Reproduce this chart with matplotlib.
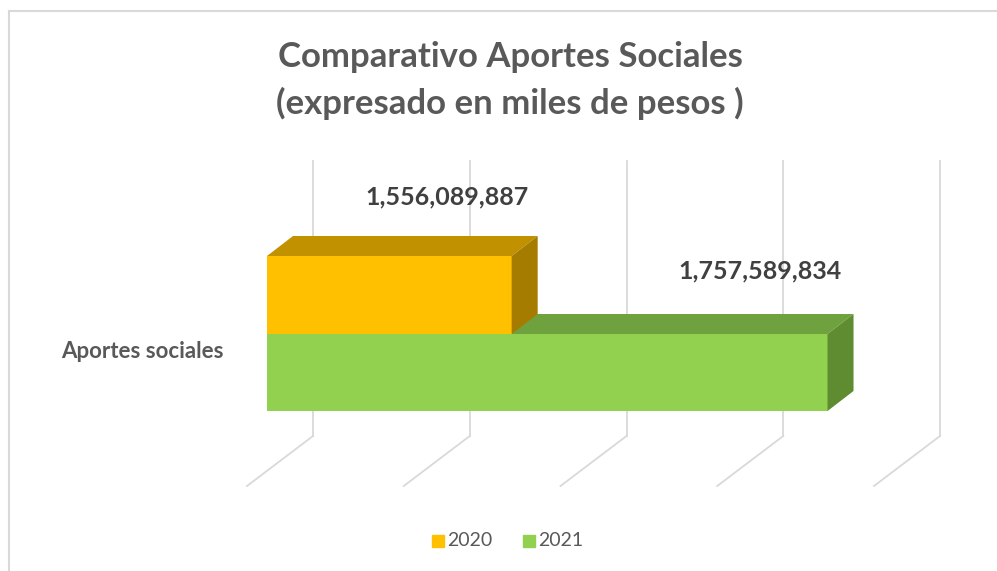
import numpy as np
import matplotlib.pyplot as plt
from matplotlib.patches import Polygon, Rectangle

# data
category = "Aportes sociales"
years = ["2020", "2021"]
values = [1556089887, 1757589834]
value_labels = ["1,556,089,887", "1,757,589,834"]

front_colors = ["#FFC000", "#92D050"]
top_colors = ["#C29100", "#70A13F"]
side_colors = ["#A67C00", "#5F8B31"]

axis_min, axis_max, step = 1.4e9, 1.8e9, 1e8

W, H = 997, 571
fig = plt.figure(figsize=(W / 100, H / 100), dpi=100)
fig.patch.set_facecolor("white")

# main axes: x in value units, y in pixel rows (top = 0)
ax = fig.add_axes([0, 0, 1, 1])
px_per_unit = 627 / (axis_max - axis_min)
x_start = axis_min - 313 / px_per_unit
ax.set_xlim(x_start, x_start + W / px_per_unit)
ax.set_ylim(H, 0)
ax.axis("off")


def u(px):
    return px / px_per_unit


grid_color = "#D9D9D9"
for g in np.arange(axis_min, axis_max + 1, step):
    ax.plot([g, g], [161, 436], color=grid_color, lw=1.3, zorder=1)
    ax.plot([g, g - u(66)], [436, 486], color=grid_color, lw=1.3, zorder=1)

# bars (3d look: front face + top + side)
shift = u(46)
dx, dy = u(26), -20
rows = [(256, 334), (334, 411)]
for i in [1, 0]:
    top, bottom = rows[i]
    left = axis_min - shift
    right = values[i] - shift
    ax.barh((top + bottom) / 2, values[i] - axis_min, left=left,
            height=bottom - top, color=front_colors[i], zorder=3 + 3 * (1 - i))
    ax.add_patch(Polygon([(left, top), (right, top), (right + dx, top + dy),
                          (left + dx, top + dy)], closed=True,
                         facecolor=top_colors[i], edgecolor="none",
                         zorder=3 + 3 * (1 - i)))
    ax.add_patch(Polygon([(right, top), (right, bottom), (right + dx, bottom + dy),
                          (right + dx, top + dy)], closed=True,
                         facecolor=side_colors[i], edgecolor="none",
                         zorder=3 + 3 * (1 - i)))

# data labels
ax.text(values[0] - u(111), 197, value_labels[0], ha="center", va="center",
        fontsize=18, fontweight="bold", color="#404040", family="Lato")
ax.text(values[1] - u(113), 271, value_labels[1], ha="center", va="center",
        fontsize=18, fontweight="bold", color="#404040", family="Lato")

# overlay in pixels for title, category label, legend, border
ov = fig.add_axes([0, 0, 1, 1])
ov.set_xlim(0, W)
ov.set_ylim(H, 0)
ov.axis("off")
ov.patch.set_alpha(0)

ov.text(510, 57, "Comparativo Aportes Sociales", ha="center", va="center",
        fontsize=25, fontweight="bold", color="#595959", family="Lato")
ov.text(510, 103, "(expresado en miles de pesos )", ha="center", va="center",
        fontsize=25, fontweight="bold", color="#595959", family="Lato")

ov.text(224, 352, category, ha="right", va="center", fontsize=16,
        fontweight="bold", color="#595959", family="Lato")

sq_x = [432, 523]
for i in range(2):
    ov.add_patch(Rectangle((sq_x[i], 535), 12, 12, color=front_colors[i]))
    ov.text(sq_x[i] + 15, 541, years[i], ha="left", va="center", fontsize=14,
            color="#595959", family="Lato")

ov.plot([9, 9], [11, H], color=grid_color, lw=1.5)
ov.plot([9, W], [11, 11], color=grid_color, lw=1.5)

fig.savefig("out.png", dpi=100)
